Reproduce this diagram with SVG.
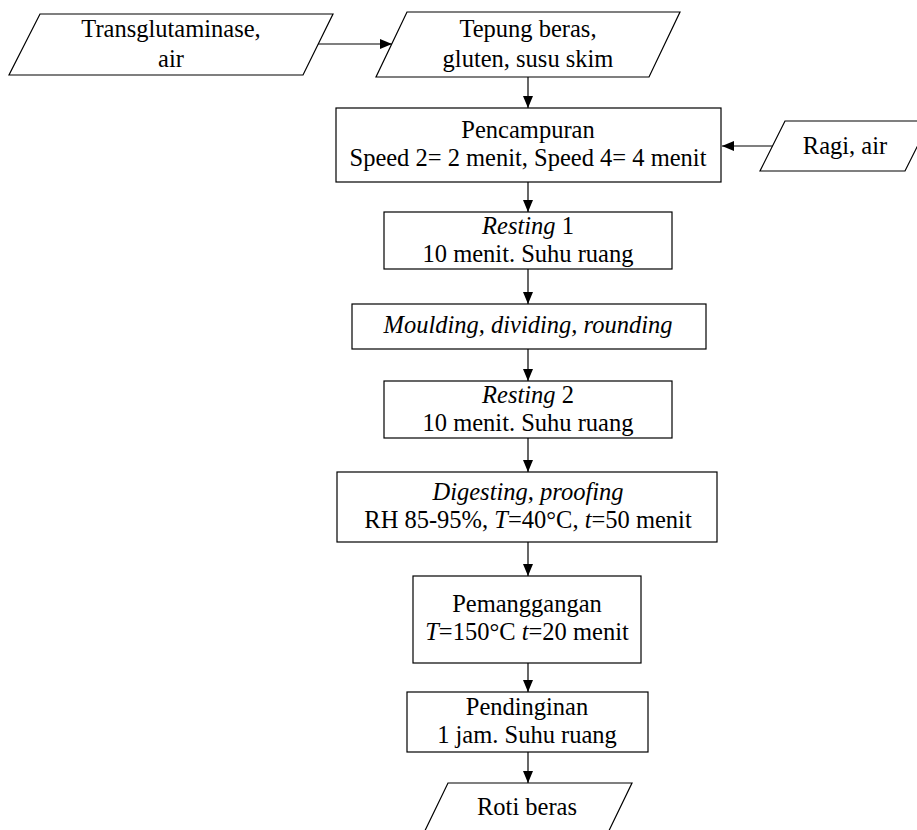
<svg xmlns="http://www.w3.org/2000/svg" width="917" height="830" viewBox="0 0 917 830">
<style>
.s{fill:#fff;stroke:#000;stroke-width:1.2}
.t{font-family:"Liberation Serif","Times New Roman",serif;font-size:24.5px;fill:#000;text-anchor:middle}
.i{font-style:italic}
.c{stroke:#000;stroke-width:1.2;fill:none}
</style>
<defs>
<marker id="ah" viewBox="0 0 12 10" refX="12" refY="5" markerWidth="12" markerHeight="10" markerUnits="userSpaceOnUse" orient="auto">
<path d="M0,0 L12,5 L0,10 Z" fill="#000"/>
</marker>
</defs>
<rect width="917" height="830" fill="#fff"/>
<g id="connectors">
<line class="c" x1="318" y1="44" x2="392" y2="44" marker-end="url(#ah)"/>
<line class="c" x1="528" y1="77" x2="528" y2="108" marker-end="url(#ah)"/>
<line class="c" x1="773" y1="146" x2="722" y2="146" marker-end="url(#ah)"/>
<line class="c" x1="528" y1="182" x2="528" y2="212" marker-end="url(#ah)"/>
<line class="c" x1="528" y1="269" x2="528" y2="304" marker-end="url(#ah)"/>
<line class="c" x1="528" y1="349" x2="528" y2="381" marker-end="url(#ah)"/>
<line class="c" x1="528" y1="438" x2="528" y2="472" marker-end="url(#ah)"/>
<line class="c" x1="528" y1="542" x2="528" y2="576" marker-end="url(#ah)"/>
<line class="c" x1="528" y1="663" x2="528" y2="692" marker-end="url(#ah)"/>
<line class="c" x1="528" y1="752" x2="528" y2="783" marker-end="url(#ah)"/>
</g>
<g id="transglutaminase">
<polygon class="s" points="40,14 333,14 303,75 9,75"/>
<text class="t" x="171" y="37">Transglutaminase,</text>
<text class="t" x="171" y="67">air</text>
</g>
<g id="tepung">
<polygon class="s" points="407,12 680,12 649,77 376,77"/>
<text class="t" x="528" y="37">Tepung beras,</text>
<text class="t" x="528" y="67">gluten, susu skim</text>
</g>
<g id="ragi">
<polygon class="s" points="785,121 930,121 905,171 760,171"/>
<text class="t" x="845" y="154">Ragi, air</text>
</g>
<g id="pencampuran">
<rect class="s" x="336" y="108" width="385" height="74"/>
<text class="t" x="528" y="138">Pencampuran</text>
<text class="t" x="528" y="166">Speed 2= 2 menit, Speed 4= 4 menit</text>
</g>
<g id="resting1">
<rect class="s" x="384" y="212" width="288" height="57"/>
<text class="t" x="528" y="234"><tspan class="i">Resting</tspan> 1</text>
<text class="t" x="528" y="262">10 menit. Suhu ruang</text>
</g>
<g id="moulding">
<rect class="s" x="352" y="304" width="354" height="45"/>
<text class="t i" x="528" y="333">Moulding, dividing, rounding</text>
</g>
<g id="resting2">
<rect class="s" x="384" y="381" width="288" height="57"/>
<text class="t" x="528" y="403"><tspan class="i">Resting</tspan> 2</text>
<text class="t" x="528" y="431">10 menit. Suhu ruang</text>
</g>
<g id="digesting">
<rect class="s" x="337" y="472" width="380" height="70"/>
<text class="t i" x="528" y="500">Digesting, proofing</text>
<text class="t" x="528" y="528">RH 85-95%, <tspan class="i">T</tspan>=40°C, <tspan class="i">t</tspan>=50 menit</text>
</g>
<g id="pemanggangan">
<rect class="s" x="413" y="576" width="228" height="87"/>
<text class="t" x="527" y="612">Pemanggangan</text>
<text class="t" x="527" y="640"><tspan class="i">T</tspan>=150°C <tspan class="i">t</tspan>=20 menit</text>
</g>
<g id="pendinginan">
<rect class="s" x="407" y="692" width="241" height="60"/>
<text class="t" x="527" y="715">Pendinginan</text>
<text class="t" x="527" y="743">1 jam. Suhu ruang</text>
</g>
<g id="roti">
<polygon class="s" points="448,783 632,783 603,843 419,843"/>
<text class="t" x="527" y="815">Roti beras</text>
</g>
</svg>
